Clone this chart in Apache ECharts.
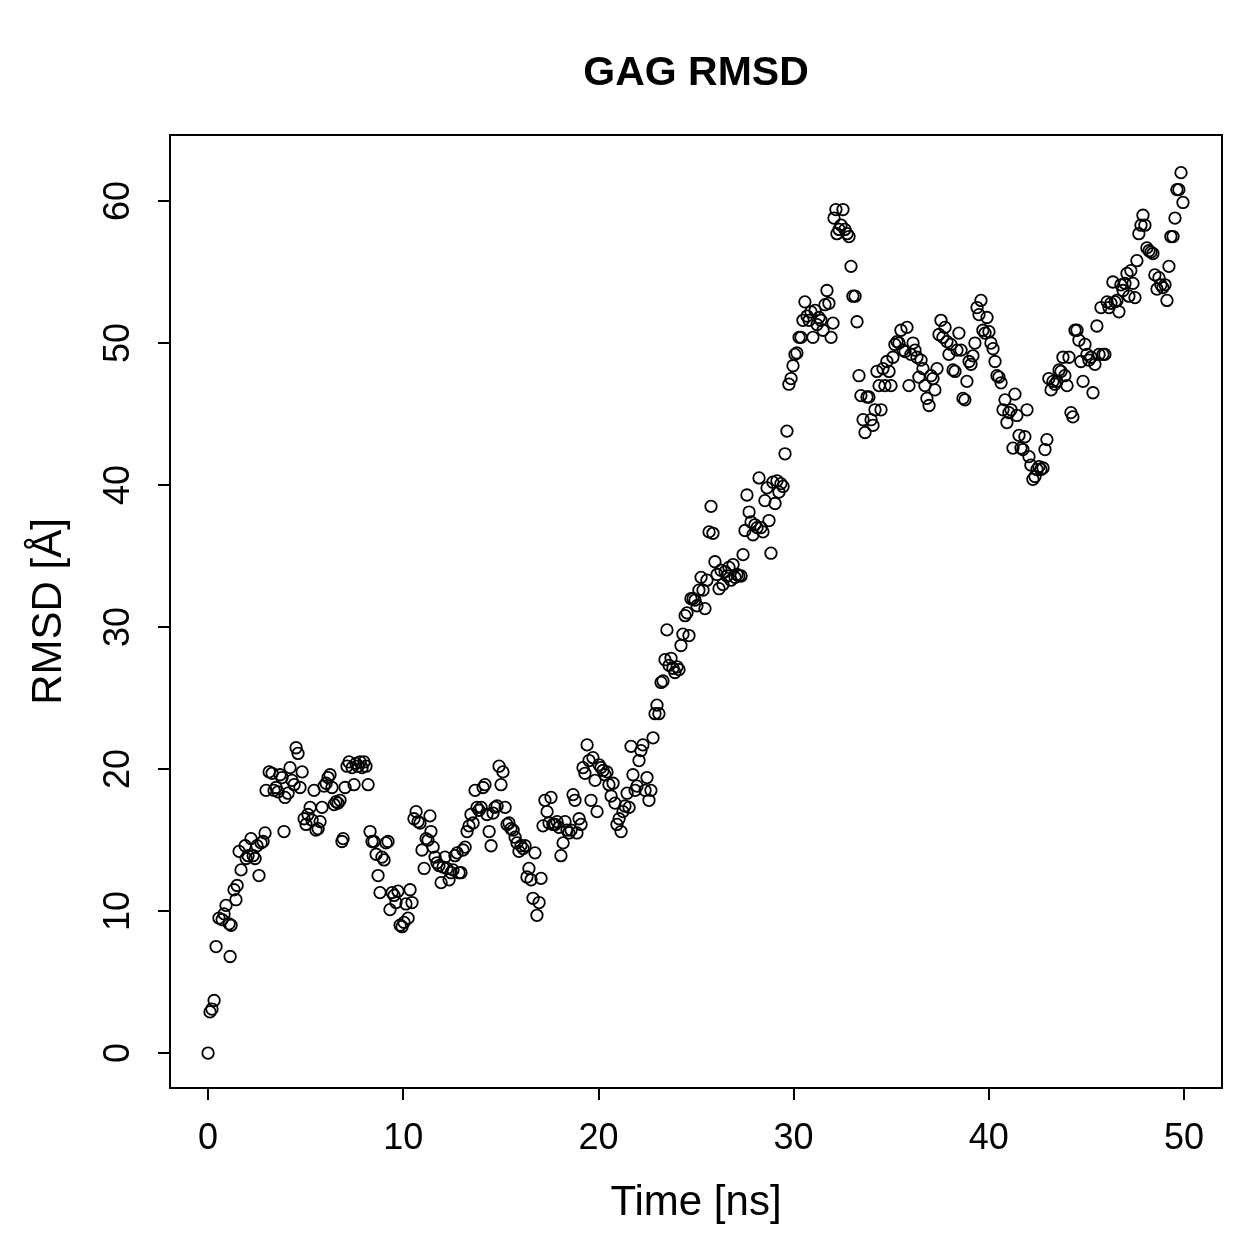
<!DOCTYPE html>
<html>
<head>
<meta charset="utf-8">
<script src="https://cdn.jsdelivr.net/npm/echarts@6/dist/echarts.min.js"></script>
<style>
  html, body { margin: 0; padding: 0; background: #fff; }
  #chart { width: 1259px; height: 1259px; }
</style>
</head>
<body>
<div id="chart"></div>
<script>
// time [ns] and RMSD [A]
var time = [
  0.00, 0.10, 0.20, 0.31, 0.41, 0.56, 0.72, 0.82, 0.92, 1.08, 1.13, 1.18, 1.33, 1.43, 1.49, 1.59, 1.69, 1.90, 1.95, 2.05,
  2.20, 2.31, 2.41, 2.51, 2.61, 2.72, 2.82, 2.92, 2.97, 3.13, 3.28, 3.38, 3.48, 3.59, 3.69, 3.79, 3.89, 3.94, 4.10, 4.20,
  4.30, 4.41, 4.51, 4.61, 4.71, 4.82, 4.92, 5.02, 5.12, 5.23, 5.33, 5.43, 5.53, 5.64, 5.74, 5.84, 5.94, 6.05, 6.15, 6.25,
  6.35, 6.46, 6.56, 6.66, 6.76, 6.86, 6.92, 7.02, 7.12, 7.22, 7.38, 7.48, 7.58, 7.68, 7.79, 7.89, 7.99, 8.09, 8.20, 8.30,
  8.40, 8.50, 8.61, 8.71, 8.81, 8.91, 9.02, 9.12, 9.22, 9.32, 9.43, 9.53, 9.63, 9.73, 9.84, 9.94, 10.04, 10.14, 10.25, 10.35,
  10.45, 10.55, 10.66, 10.76, 10.86, 10.96, 11.07, 11.17, 11.27, 11.37, 11.42, 11.53, 11.63, 11.73, 11.83, 11.94, 12.04, 12.14, 12.24, 12.35,
  12.45, 12.55, 12.65, 12.76, 12.86, 12.96, 13.06, 13.17, 13.27, 13.37, 13.47, 13.58, 13.68, 13.78, 13.88, 13.99, 14.09, 14.19, 14.29, 14.40,
  14.50, 14.60, 14.70, 14.81, 14.91, 15.01, 15.11, 15.22, 15.32, 15.42, 15.52, 15.63, 15.73, 15.83, 15.93, 16.03, 16.14, 16.24, 16.34, 16.44,
  16.55, 16.65, 16.75, 16.85, 16.96, 17.06, 17.16, 17.26, 17.37, 17.47, 17.57, 17.67, 17.78, 17.88, 17.98, 18.08, 18.19, 18.29, 18.39, 18.49,
  18.60, 18.70, 18.80, 18.90, 19.01, 19.11, 19.21, 19.31, 19.42, 19.52, 19.62, 19.72, 19.83, 19.93, 20.03, 20.13, 20.24, 20.34, 20.44, 20.54,
  20.65, 20.75, 20.85, 20.95, 21.06, 21.16, 21.26, 21.36, 21.47, 21.57, 21.67, 21.77, 21.88, 21.98, 22.08, 22.18, 22.28, 22.39, 22.49, 22.59,
  22.69, 22.80, 22.90, 23.00, 23.10, 23.21, 23.31, 23.41, 23.51, 23.62, 23.72, 23.82, 23.92, 24.03, 24.13, 24.23, 24.33, 24.44, 24.54, 24.64,
  24.74, 24.85, 24.95, 25.05, 25.15, 25.26, 25.36, 25.46, 25.56, 25.67, 25.77, 25.87, 25.97, 26.08, 26.18, 26.28, 26.38, 26.49, 26.59, 26.69,
  26.79, 26.90, 27.00, 27.10, 27.20, 27.31, 27.41, 27.51, 27.61, 27.72, 27.82, 27.92, 28.02, 28.13, 28.23, 28.33, 28.43, 28.53, 28.64, 28.74,
  28.84, 28.94, 29.05, 29.15, 29.25, 29.35, 29.46, 29.56, 29.66, 29.76, 29.87, 29.97, 30.07, 30.17, 30.28, 30.38, 30.48, 30.58, 30.69, 30.79,
  30.89, 30.99, 31.10, 31.20, 31.30, 31.40, 31.51, 31.61, 31.71, 31.81, 31.92, 32.02, 32.07, 32.17, 32.22, 32.33, 32.43, 32.53, 32.63, 32.74,
  32.84, 32.94, 33.04, 33.15, 33.25, 33.35, 33.45, 33.56, 33.66, 33.76, 33.86, 33.97, 34.07, 34.17, 34.27, 34.38, 34.48, 34.58, 34.68, 34.78,
  34.89, 34.99, 35.09, 35.19, 35.30, 35.40, 35.50, 35.60, 35.71, 35.81, 35.91, 36.01, 36.12, 36.22, 36.32, 36.42, 36.53, 36.63, 36.73, 36.83,
  36.94, 37.04, 37.14, 37.24, 37.35, 37.45, 37.55, 37.65, 37.76, 37.86, 37.96, 38.06, 38.17, 38.27, 38.37, 38.47, 38.58, 38.68, 38.78, 38.88,
  38.99, 39.09, 39.19, 39.29, 39.40, 39.50, 39.60, 39.70, 39.81, 39.91, 40.01, 40.11, 40.22, 40.32, 40.42, 40.52, 40.63, 40.73, 40.83, 40.93,
  41.03, 41.14, 41.24, 41.34, 41.44, 41.55, 41.65, 41.75, 41.85, 41.96, 42.06, 42.16, 42.26, 42.37, 42.47, 42.57, 42.67, 42.78, 42.88, 42.98,
  43.08, 43.19, 43.29, 43.39, 43.49, 43.60, 43.70, 43.80, 43.90, 44.01, 44.11, 44.21, 44.31, 44.42, 44.52, 44.62, 44.72, 44.83, 44.93, 45.03,
  45.13, 45.24, 45.34, 45.44, 45.54, 45.65, 45.75, 45.85, 45.95, 46.06, 46.16, 46.26, 46.36, 46.47, 46.57, 46.67, 46.77, 46.88, 46.98, 47.08,
  47.18, 47.28, 47.39, 47.49, 47.59, 47.69, 47.80, 47.90, 48.00, 48.10, 48.21, 48.31, 48.41, 48.51, 48.62, 48.72, 48.82, 48.92, 49.03, 49.13,
  49.23, 49.33, 49.44, 49.54, 49.64, 49.74, 49.85, 49.95
];
var rmsd = [
  0.0, 2.9, 3.1, 3.7, 7.5, 9.5, 9.4, 9.8, 10.4, 9.1, 6.8, 9.0, 11.5, 10.8, 11.8, 14.2, 12.9, 14.6, 13.7, 13.9,
  15.1, 13.9, 13.7, 14.6, 12.5, 14.8, 14.9, 15.5, 18.5, 19.8, 19.7, 18.5, 18.7, 18.4, 19.6, 19.4, 15.6, 18.0, 18.3, 20.1,
  19.2, 18.9, 21.5, 21.1, 18.7, 19.8, 16.5, 16.1, 16.8, 17.3, 16.4, 18.5, 15.7, 15.8, 16.3, 17.3, 18.8, 19.0, 19.4, 19.6,
  18.7, 17.5, 17.7, 17.6, 17.8, 14.9, 15.1, 18.7, 20.2, 20.5, 20.1, 18.9, 20.4, 20.2, 20.5, 20.1, 20.5, 20.2, 18.9, 15.6,
  14.9, 14.9, 14.0, 12.5, 11.3, 13.8, 13.6, 14.8, 14.9, 10.1, 11.3, 11.1, 10.6, 11.4, 9.0, 8.9, 9.2, 10.5, 9.5, 11.5,
  10.6, 16.5, 17.0, 16.3, 16.2, 14.3, 13.0, 15.1, 15.0, 16.7, 15.6, 14.5, 13.8, 13.4, 13.2, 12.0, 13.1, 13.8, 13.0, 12.2,
  12.7, 12.9, 13.9, 14.1, 12.7, 12.7, 14.3, 14.5, 15.6, 16.0, 16.8, 16.2, 18.5, 17.3, 17.1, 17.3, 18.7, 18.9, 16.8, 15.6,
  14.6, 16.9, 17.3, 17.4, 20.2, 18.9, 19.8, 17.3, 16.1, 16.2, 15.8, 15.7, 15.2, 14.8, 14.2, 14.6, 14.4, 14.6, 12.4, 13.0,
  12.2, 10.9, 14.1, 9.7, 10.6, 12.3, 16.0, 17.8, 17.0, 16.2, 18.0, 16.1, 16.1, 16.3, 15.9, 13.9, 14.8, 16.3, 15.7, 15.5,
  15.7, 18.2, 17.8, 15.5, 16.5, 16.1, 20.1, 19.7, 21.7, 20.6, 17.8, 20.8, 19.2, 17.0, 20.3, 20.1, 19.9, 19.6, 19.8, 18.9,
  18.1, 19.0, 17.6, 16.1, 16.5, 15.6, 17.0, 17.4, 18.3, 17.3, 21.6, 19.6, 18.5, 18.8, 20.6, 21.3, 21.7, 18.5, 19.4, 17.8,
  18.5, 22.2, 23.9, 24.5, 23.9, 26.1, 26.2, 27.7, 29.8, 27.3, 27.8, 27.1, 26.8, 27.2, 27.0, 28.7, 29.5, 30.8, 31.0, 29.4,
  32.0, 32.0, 31.9, 31.5, 32.6, 33.5, 32.6, 31.3, 33.3, 36.7, 38.5, 36.6, 34.6, 33.7, 32.7, 34.0, 33.0, 33.9, 33.6, 34.2,
  33.3, 34.4, 33.5, 33.7, 33.6, 33.6, 35.1, 36.8, 39.3, 38.1, 37.4, 36.5, 37.2, 37.0, 40.5, 37.0, 36.7, 38.9, 39.8, 37.5,
  35.2, 40.2, 38.7, 40.3, 39.5, 40.1, 39.9, 42.2, 43.8, 47.1, 47.5, 48.4, 49.2, 49.3, 50.4, 50.4, 51.6, 52.9, 51.9, 51.6,
  52.2, 50.4, 52.3, 51.3, 51.8, 51.6, 50.9, 52.7, 53.7, 52.8, 50.4, 51.4, 58.8, 59.4, 57.7, 58.0, 58.3, 59.4, 58.0, 57.7,
  57.5, 55.4, 53.3, 53.3, 51.5, 47.7, 46.3, 44.6, 43.7, 46.2, 46.2, 44.6, 44.2, 45.3, 48.0, 47.0, 45.3, 48.2, 47.0, 48.7,
  48.0, 47.0, 49.0, 49.9, 50.1, 50.0, 50.9, 49.5, 49.4, 51.1, 47.0, 49.2, 50.0, 49.5, 49.0, 47.6, 48.8, 48.2, 47.0, 46.1,
  45.6, 47.7, 47.5, 46.7, 48.2, 50.6, 51.6, 50.4, 51.1, 50.1, 49.2, 49.9, 48.1, 48.0, 49.5, 50.7, 49.5, 46.1, 46.0, 47.3,
  48.7, 48.5, 49.1, 50.0, 52.5, 52.0, 53.0, 50.9, 50.7, 51.8, 50.8, 50.0, 49.6, 48.7, 47.7, 47.6, 47.2, 45.3, 46.0, 44.4,
  45.1, 45.3, 42.6, 46.4, 44.9, 43.5, 42.6, 42.5, 43.4, 45.3, 42.0, 41.4, 40.4, 40.6, 41.1, 41.3, 41.1, 41.2, 42.5, 43.2,
  47.5, 46.7, 47.3, 47.1, 47.3, 48.1, 48.0, 49.0, 47.7, 47.0, 49.0, 45.1, 44.8, 50.9, 50.9, 50.2, 48.7, 47.3, 49.9, 49.2,
  48.8, 49.0, 46.5, 48.5, 51.2, 49.2, 52.5, 49.2, 49.2, 52.9, 52.5, 52.8, 54.3, 52.9, 53.0, 52.2, 54.1, 53.7, 54.2, 54.9,
  53.3, 55.1, 54.2, 53.2, 55.8, 57.7, 58.3, 59.0, 58.3, 56.7, 56.5, 56.4, 56.3, 54.8, 53.8, 54.6, 54.1, 53.9, 54.1, 53.0,
  55.4, 57.5, 57.5, 58.8, 60.8, 60.8, 62.0, 59.9
];
var xTicks = [0, 10, 20, 30, 40, 50];
var yTicks = [0, 10, 20, 30, 40, 50, 60];

var chart = echarts.init(document.getElementById('chart'));
var points = time.map(function (t, i) { return [t, rmsd[i]]; });
var font = 'Liberation Sans, Arial, Helvetica, sans-serif';

chart.setOption({
  backgroundColor: '#fff',
  animation: false,
  title: {
    text: 'GAG RMSD',
    left: 691,
    top: 48,
    textAlign: 'center',
    textStyle: { fontFamily: font, fontWeight: 'bold', fontSize: 41, color: '#000' }
  },
  grid: {
    left: 170, right: 37, top: 135, bottom: 171,
    show: true, borderColor: '#000', borderWidth: 2, backgroundColor: 'transparent'
  },
  xAxis: {
    type: 'value',
    min: -1.95, max: 51.95,
    name: 'Time [ns]',
    nameLocation: 'middle',
    nameGap: 94,
    nameTextStyle: { fontFamily: font, fontSize: 42, color: '#000' },
    axisLine: { show: false, onZero: false },
    splitLine: { show: false },
    axisTick: { show: true, inside: false, length: 12, customValues: xTicks, lineStyle: { color: '#000', width: 2 } },
    axisLabel: { customValues: xTicks, margin: 33, fontFamily: font, fontSize: 36, color: '#000' }
  },
  yAxis: {
    type: 'value',
    min: -2.46, max: 64.65,
    name: 'RMSD [Å]',
    nameLocation: 'middle',
    nameGap: 100,
    nameRotate: 90,
    nameTextStyle: { fontFamily: font, fontSize: 42, color: '#000' },
    axisLine: { show: false, onZero: false },
    splitLine: { show: false },
    axisTick: { show: true, inside: false, length: 12, customValues: yTicks, lineStyle: { color: '#000', width: 2 } },
    axisLabel: { customValues: yTicks, rotate: 90, margin: 33, fontFamily: font, fontSize: 36, color: '#000' }
  },
  series: [{
    type: 'scatter',
    data: points,
    symbol: 'circle',
    symbolSize: 11.5,
    itemStyle: { color: 'transparent', borderColor: '#000', borderWidth: 1.8, opacity: 1 },
    emphasis: { disabled: true }
  }]
});
</script>
</body>
</html>
